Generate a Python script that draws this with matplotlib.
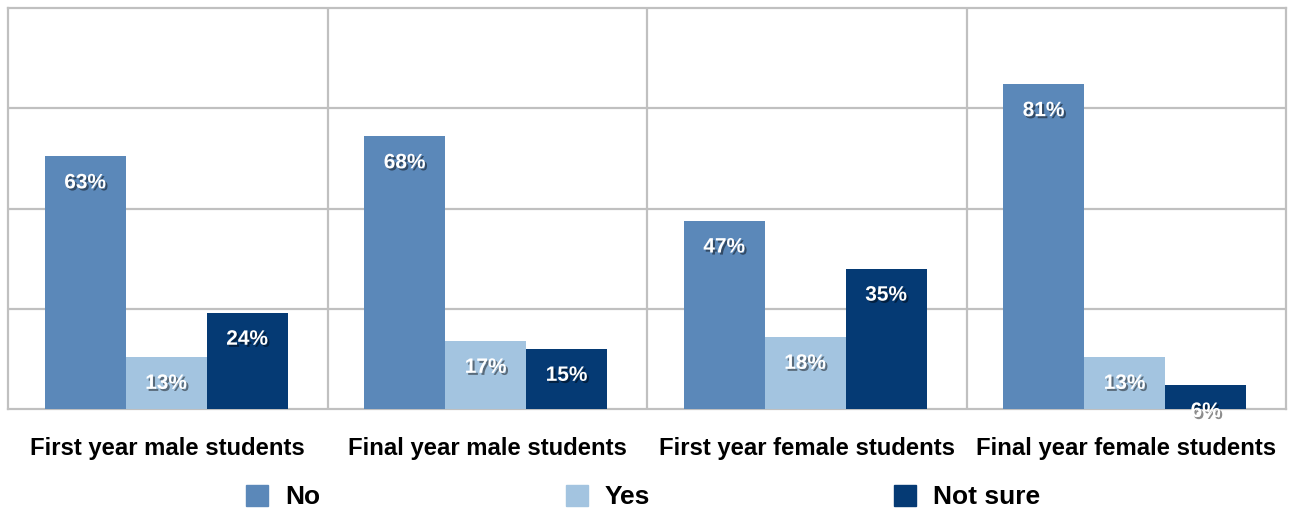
import matplotlib.pyplot as plt
import matplotlib.patheffects as pe
from matplotlib.patches import Patch

plt.rcParams['font.family'] = ['Liberation Sans', 'DejaVu Sans']

# Survey answers per group (percent)
groups = ["First year male students", "Final year male students",
          "First year female students", "Final year female students"]
answers = ["No", "Yes", "Not sure"]
no_vals = [63, 68, 47, 81]
yes_vals = [13, 17, 18, 13]
notsure_vals = [24, 15, 35, 6]
colors = ["#5b88b9", "#a3c4e0", "#053a74"]
grid_col = "#c0c0c0"

fig = plt.figure(figsize=(12.9, 5.09), dpi=100)
ax = fig.add_axes([8 / 1290, 1 - 409 / 509, 1278 / 1290, 401 / 509])

shadow = [pe.SimplePatchShadow(offset=(1.5, -1.5), shadow_rgbFace="black", alpha=0.45), pe.Normal()]

width = 0.2535
x = list(range(len(groups)))
series = [no_vals, yes_vals, notsure_vals]
for j, vals in enumerate(series):
    pos = [i + (j - 1) * width - 0.005 for i in x]
    ax.bar(pos, vals, width=width, color=colors[j], zorder=3)
    for p, v in zip(pos, vals):
        ax.text(p, v - 6.6, f"{v}%", ha="center", va="center", color="white",
                fontsize=15, fontweight="bold", path_effects=shadow, zorder=5)

ax.set_xlim(-0.5, len(groups) - 0.5)
ax.set_ylim(0, 100)

# grid: horizontal lines and group separators
for yv in [25, 50, 75]:
    ax.axhline(yv, color=grid_col, lw=1.6, zorder=1)
for xv in [0.5, 1.5, 2.5]:
    ax.axvline(xv, color=grid_col, lw=1.6, zorder=1)
for s in ax.spines.values():
    s.set_color(grid_col)
    s.set_linewidth(1.6)

ax.set_yticks([])
ax.set_xticks(x)
ax.set_xticklabels(groups, fontsize=17.2, fontweight="bold")
ax.tick_params(axis="x", length=0, pad=20.5)

# legend entries placed one by one
leg_x = [246, 566, 894]
for name, col, lx in zip(answers, colors, leg_x):
    leg = fig.legend(handles=[Patch(color=col)], labels=[name], loc="center left",
                     bbox_to_anchor=(lx / 1290, 1 - 497 / 509), frameon=False,
                     prop={"size": 19, "weight": "bold"}, handlelength=0.85,
                     handleheight=0.85, handletextpad=0.62, borderpad=0, borderaxespad=0)

fig.savefig("out.png", dpi=100)
